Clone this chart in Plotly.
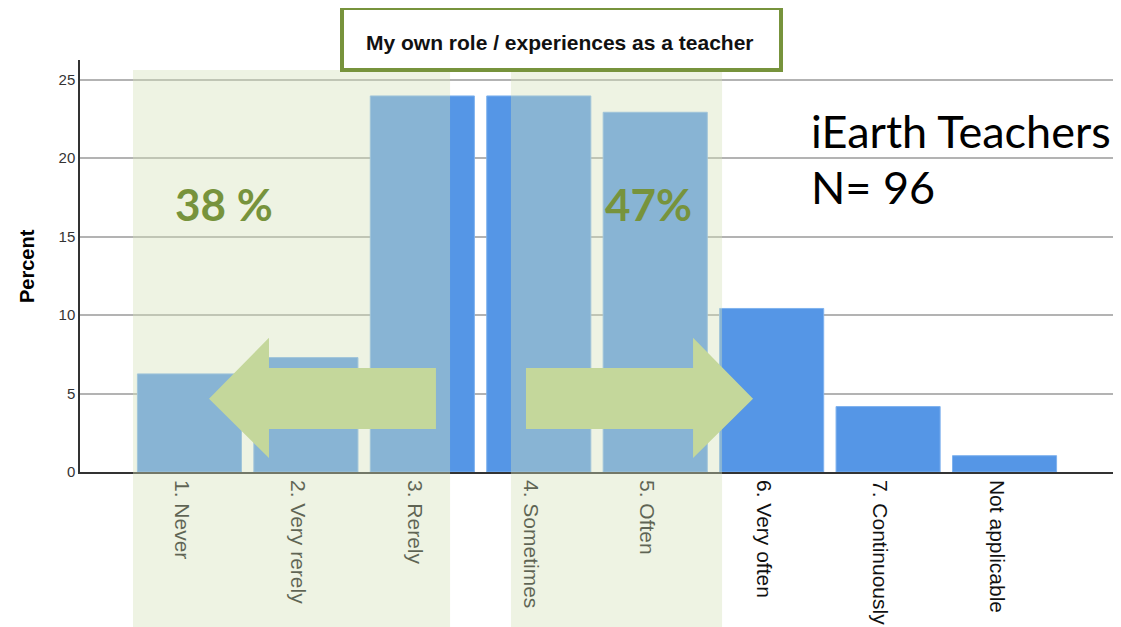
import plotly.graph_objects as go

categories = ["1. Never", "2. Very rerely", "3. Rerely", "4. Sometimes", "5. Often",
              "6. Very often", "7. Continuously", "Not applicable"]
percent = [6.25, 7.29, 23.96, 23.96, 22.92, 10.42, 4.17, 1.04]
y_ticks = [0, 5, 10, 15, 20, 25]

BLUE = "#5596E6"
GREEN_DARK = "#77933C"
ARROW = "#C4D79B"
SHADE = "rgba(212,224,186,0.40)"

OFF = 8  # page body margin
W, H = 1121 - OFF, 627 - OFF
L, R, T, B = 80 - OFF, 7, 60 - OFF, 155
XR = [-0.94, 7.94]
YR = [0, 26.25]

pw = W - L - R
ph = H - T - B
def px(xp):  # page pixel x -> paper
    return (xp - OFF - L) / pw
def py(yp):  # page pixel y -> paper
    return (H - B - (yp - OFF)) / ph

fig = go.Figure()
fig.add_trace(go.Bar(
    x=list(range(len(categories))), y=percent,
    marker=dict(color=BLUE, line=dict(color="#7FB2EE", width=1)),
    hoverinfo="skip",
))

shapes = []
for x0, x1 in [(-0.485, 2.238), (2.761, 4.574)]:
    shapes.append(dict(type="rect", xref="x", yref="paper", x0=x0, x1=x1, y0=py(640), y1=py(70),
                       fillcolor=SHADE, line=dict(width=0), layer="above"))

def arrow_path(tip, base, end, yt, yb, st, sb, ymid):
    return (f"M {tip},{ymid} L {base},{yt} L {base},{st} L {end},{st} "
            f"L {end},{sb} L {base},{sb} L {base},{yb} Z")
shapes.append(dict(type="path", xref="x", yref="y",
                   path=arrow_path(0.168, 0.683, 2.117, 8.55, 0.89, 6.63, 2.74, 4.66),
                   fillcolor=ARROW, line=dict(width=0), layer="above"))
shapes.append(dict(type="path", xref="x", yref="y",
                   path=arrow_path(4.840, 4.325, 2.890, 8.55, 0.89, 6.63, 2.74, 4.66),
                   fillcolor=ARROW, line=dict(width=0), layer="above"))
shapes.append(dict(type="rect", xref="paper", yref="paper",
                   x0=px(342), x1=px(781), y0=py(70), y1=py(8),
                   fillcolor="white", line=dict(color=GREEN_DARK, width=4), layer="above"))

annotations = [
    dict(text="<b>My own role / experiences as a teacher</b>", xref="paper", yref="paper",
         x=px(560), y=py(43), xanchor="center", yanchor="middle", showarrow=False,
         font=dict(family="Liberation Sans, Arial", size=21, color="#111")),
    dict(text="<b>38 %</b>", xref="x", yref="y", x=0.297, y=17.1, xanchor="center", yanchor="middle",
         showarrow=False, font=dict(family="Lato", size=44, color=GREEN_DARK)),
    dict(text="<b>47%</b>", xref="x", yref="y", x=3.938, y=17.1, xanchor="center", yanchor="middle",
         showarrow=False, font=dict(family="Lato", size=44, color=GREEN_DARK)),
    dict(text="iEarth Teachers", xref="paper", yref="paper", x=px(809), y=py(131),
         xanchor="left", yanchor="middle", showarrow=False,
         font=dict(family="Lato", size=45, color="#000")),
    dict(text="N= 96", xref="paper", yref="paper", x=px(809), y=py(187),
         xanchor="left", yanchor="middle", showarrow=False,
         font=dict(family="Lato", size=45, color="#000")),
    dict(text="<b>Percent</b>", xref="paper", yref="paper", x=px(27), y=py(266), textangle=-90,
         xanchor="center", yanchor="middle", showarrow=False,
         font=dict(family="Liberation Sans, Arial", size=20, color="#000")),
]

fig.update_layout(
    width=W, height=H,
    margin=dict(l=L, r=R, t=T, b=B, autoexpand=False),
    paper_bgcolor="white", plot_bgcolor="white",
    bargap=0.106,
    showlegend=False,
    shapes=shapes,
    annotations=annotations,
    xaxis=dict(range=XR, tickmode="array", tickvals=list(range(len(categories))),
               ticktext=categories, tickangle=90, showgrid=False, zeroline=False,
               showline=True, linecolor="#333", linewidth=1.5, ticks="",
               ticklabelshift=-8, ticklabelstandoff=2, automargin=False,
               tickfont=dict(family="Liberation Sans, Arial", size=21, color="#111")),
    yaxis=dict(range=YR, tickvals=y_ticks, showgrid=True, gridcolor="#B3B3B3", gridwidth=2,
               zeroline=False, showline=True, linecolor="#333", linewidth=1.5, ticks="",
               automargin=False,
               tickfont=dict(family="Liberation Sans, Arial", size=15, color="#333")),
)

fig.write_html("out.html")
